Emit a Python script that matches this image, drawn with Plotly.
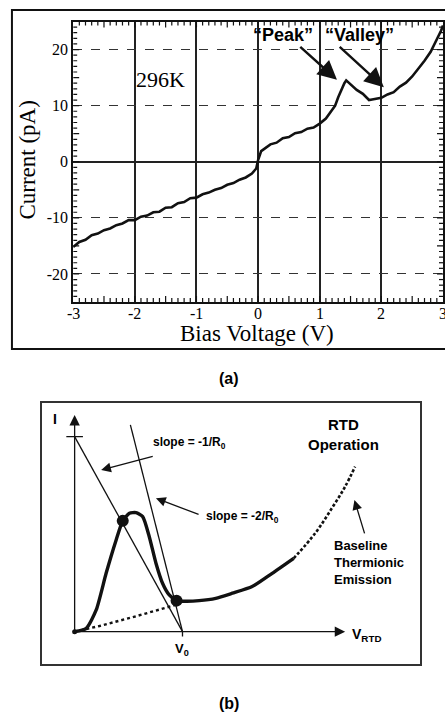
import plotly.graph_objects as go

# ---------------- Panel (a): measured I-V curve at 296K ----------------
bias_v = [-3.0, -2.9, -2.8, -2.7, -2.6, -2.5, -2.4, -2.3, -2.2, -2.1, -2.0, -1.9, -1.8, -1.7,
          -1.6, -1.5, -1.4, -1.3, -1.2, -1.1, -1.0, -0.9, -0.8, -0.7, -0.6, -0.5, -0.4, -0.3,
          -0.2, -0.1, -0.03, 0.0, 0.05, 0.1, 0.2, 0.3, 0.4, 0.5, 0.6, 0.7, 0.8, 0.9, 1.0, 1.1,
          1.2, 1.25, 1.3, 1.35, 1.4, 1.43, 1.5, 1.55, 1.6, 1.7, 1.8, 1.85, 1.9, 2.0, 2.1, 2.2,
          2.3, 2.4, 2.5, 2.6, 2.7, 2.8, 2.9, 2.97, 3.0]
current_pa = [-15.2, -14.3, -13.9, -13.1, -12.8, -12.2, -11.9, -11.3, -11.0, -10.4, -10.4, -9.8,
              -9.6, -9.0, -8.9, -8.2, -8.1, -7.4, -7.2, -6.5, -6.4, -5.8, -5.5, -5.0, -4.7, -4.1,
              -3.8, -3.2, -2.8, -2.1, -1.2, 0.3, 1.9, 2.3, 3.1, 3.4, 4.2, 4.4, 5.1, 5.3, 5.9, 6.1,
              6.8, 7.7, 9.2, 10.0, 11.5, 12.8, 14.0, 14.5, 13.8, 13.4, 12.8, 12.1, 11.0, 11.1,
              11.2, 11.4, 12.0, 12.4, 13.4, 14.1, 15.2, 16.5, 18.0, 19.6, 21.8, 23.4, 24.3]
x_ticks_a = [-3, -2, -1, 0, 1, 2, 3]
y_ticks_a = [-20, -10, 0, 10, 20]
x_minor_step = 0.1   # V
y_minor_step = 1     # pA

# ---------------- Panel (b): RTD operation schematic ----------------
rtd_v = [0.0, 0.108, 0.2, 0.292, 0.385, 0.446, 0.508, 0.569, 0.631, 0.692, 0.754, 0.815,
         0.877, 0.945, 1.031, 1.154, 1.308, 1.462, 1.646, 1.831, 2.031]
rtd_i = [0.0, 0.017, 0.111, 0.299, 0.470, 0.568, 0.607, 0.610, 0.590, 0.487, 0.351, 0.248,
         0.188, 0.159, 0.156, 0.159, 0.171, 0.197, 0.231, 0.299, 0.376]
thermionic_v = [2.031, 2.231, 2.385, 2.508, 2.6]
thermionic_i = [0.376, 0.505, 0.633, 0.744, 0.846]
baseline_v = [0.0, 0.231, 0.538, 0.785, 0.969]
baseline_i = [0.0, 0.029, 0.074, 0.111, 0.142]
load1_v = [0.0, 1.0]
load1_i = [1.0, 0.0]
load2_v = [0.517, 1.0]
load2_i = [1.06, 0.0]
op_v = [0.446, 0.945]
op_i = [0.568, 0.159]

W, H = 445, 713
INK = "#111111"
SERIF = "Liberation Serif, Times New Roman, serif"
SANS = "Liberation Sans, Arial, sans-serif"

fig = go.Figure()

fig.add_trace(go.Scatter(x=bias_v, y=current_pa, mode="lines", xaxis="x", yaxis="y",
                         line=dict(color=INK, width=2.6), showlegend=False, hoverinfo="skip"))

# panel (b) traces
fig.add_trace(go.Scatter(x=baseline_v, y=baseline_i, mode="lines", xaxis="x2", yaxis="y2",
                         line=dict(color=INK, width=2.4, dash="dot"), showlegend=False))
fig.add_trace(go.Scatter(x=load1_v, y=load1_i, mode="lines", xaxis="x2", yaxis="y2",
                         line=dict(color=INK, width=1.3), showlegend=False))
fig.add_trace(go.Scatter(x=load2_v, y=load2_i, mode="lines", xaxis="x2", yaxis="y2",
                         line=dict(color=INK, width=1.3), showlegend=False))
fig.add_trace(go.Scatter(x=rtd_v, y=rtd_i, mode="lines", xaxis="x2", yaxis="y2",
                         line=dict(color=INK, width=3.4, shape="spline", smoothing=0.6),
                         showlegend=False))
fig.add_trace(go.Scatter(x=thermionic_v, y=thermionic_i, mode="lines", xaxis="x2", yaxis="y2",
                         line=dict(color=INK, width=2.6, dash="3px,2px", shape="spline"),
                         showlegend=False))
fig.add_trace(go.Scatter(x=op_v, y=op_i, mode="markers", xaxis="x2", yaxis="y2",
                         marker=dict(color=INK, size=12), showlegend=False))
fig.add_trace(go.Scatter(x=[0], y=[0], mode="markers", xaxis="x2", yaxis="y2",
                         marker=dict(color=INK, size=5), showlegend=False))

# ---------- layout ----------
ax_left, ax_right = 73.5 / W, 1.0
ay_bot, ay_top = 1 - 302 / H, 1 - 21.5 / H
XR = [x_ticks_a[0], x_ticks_a[-1]]
YR = [-25, 25]

tickfont = dict(family=SERIF, size=16, color="#000")
fig.update_layout(
    width=W, height=H, margin=dict(l=0, r=0, t=0, b=0),
    paper_bgcolor="white", plot_bgcolor="white",
    xaxis=dict(domain=[ax_left, ax_right], range=XR, tickvals=x_ticks_a,
               showticklabels=False,
               showline=True, linecolor=INK, linewidth=2, mirror=True, ticks="",
               showgrid=True, gridcolor="#222", gridwidth=1.6, zeroline=False,
               fixedrange=True),
    yaxis=dict(domain=[ay_bot, ay_top], range=YR, tickvals=y_ticks_a,
               ticktext=[str(v) for v in y_ticks_a], tickfont=tickfont,
               showline=True, linecolor=INK, linewidth=2, mirror=True, ticks="",
               showgrid=True, gridcolor="#333", gridwidth=1.3, griddash="dash",
               zeroline=True, zerolinecolor="#222", zerolinewidth=1.8,
               fixedrange=True),
    xaxis2=dict(domain=[41.7 / W, 421.7 / W], range=[-0.307, 3.2], anchor="y2",
                showline=True, linecolor="#333", linewidth=1.5, mirror=True,
                showgrid=False, zeroline=False, showticklabels=False, ticks=""),
    yaxis2=dict(domain=[1 - 664 / H, 1 - 402.7 / H], range=[-0.166, 1.174], anchor="x2",
                showline=True, linecolor="#333", linewidth=1.5, mirror=True,
                showgrid=False, zeroline=False, showticklabels=False, ticks=""),
)

shapes = []
# fine inward tick marks on all four sides of panel (a), placed through the axes' scales
n_x = int(round((XR[1] - XR[0]) / x_minor_step))
for k in range(1, n_x):
    xv = round(XR[0] + k * x_minor_step, 3)
    ln = 6 if abs(xv * 2 - round(xv * 2)) < 1e-6 else 4
    for anchor, sgn in ((YR[0], 1), (YR[1], -1)):
        shapes.append(dict(type="line", xref="x", yref="y", ysizemode="pixel", yanchor=anchor,
                           x0=xv, x1=xv, y0=0, y1=sgn * ln,
                           line=dict(color=INK, width=1.2)))
n_y = int(round((YR[1] - YR[0]) / y_minor_step))
for k in range(1, n_y):
    yv = YR[0] + k * y_minor_step
    ln = 6 if yv % 5 == 0 else 4
    for anchor, sgn in ((XR[0], 1), (XR[1], -1)):
        shapes.append(dict(type="line", xref="x", yref="y", xsizemode="pixel", xanchor=anchor,
                           y0=yv, y1=yv, x0=0, x1=sgn * ln,
                           line=dict(color=INK, width=1.2)))

# frame of panel (a)
shapes.append(dict(type="rect", xref="paper", yref="paper", x0=12 / W, x1=1.05,
                   y0=1 - 349 / H, y1=1 - 10 / H, line=dict(color=INK, width=2)))
# panel (b): tick at I-axis intercept and at V0
shapes.append(dict(type="line", xref="x2", yref="y2", x0=-0.077, x1=0.077, y0=1.0, y1=1.0,
                   line=dict(color=INK, width=1.3)))
shapes.append(dict(type="line", xref="x2", yref="y2", x0=1.0, x1=1.0, y0=0.0, y1=-0.025,
                   line=dict(color=INK, width=1.3)))

ann = []
# x tick labels of panel (a)
for v in x_ticks_a:
    ann.append(dict(xref="x", yref="paper", x=v, y=1 - 313 / H, text=str(v), showarrow=False,
                    xanchor="center", yanchor="middle", font=tickfont))
# panel (a) texts
ann.append(dict(xref="paper", yref="paper", x=26.7 / W, y=1 - 160 / H, text="Current (pA)",
                xanchor="center", yanchor="middle",
                textangle=-90, showarrow=False, font=dict(family=SERIF, size=23, color="#000")))
ann.append(dict(xref="paper", yref="paper", x=258 / W, y=1 - 333 / H, text="Bias Voltage (V)",
                xanchor="center", yanchor="middle",
                showarrow=False, font=dict(family=SERIF, size=23, color="#000")))
ann.append(dict(xref="x", yref="y", x=-1.58, y=14.6, text="296K", showarrow=False,
                font=dict(family=SERIF, size=22, color="#000")))
ann.append(dict(xref="x", yref="y", x=0.40, y=22.6, text="\u201cPeak\u201d", showarrow=False,
                font=dict(family=SANS, size=18, color="#000", weight="bold")))
ann.append(dict(xref="x", yref="y", x=1.65, y=22.6, text="\u201cValley\u201d", showarrow=False,
                font=dict(family=SANS, size=18, color="#000", weight="bold")))
ann.append(dict(xref="x", yref="y", axref="x", ayref="y", x=1.28, y=14.6, ax=0.66, ay=20.7,
                text="", showarrow=True, arrowhead=2, arrowsize=1.6, arrowwidth=2.4,
                arrowcolor=INK))
ann.append(dict(xref="x", yref="y", axref="x", ayref="y", x=2.04, y=13.3, ax=1.3, ay=20.7,
                text="", showarrow=True, arrowhead=2, arrowsize=1.6, arrowwidth=2.4,
                arrowcolor=INK))
ann.append(dict(xref="paper", yref="paper", x=230 / W, y=1 - 378 / H, text="(a)",
                xanchor="center", yanchor="middle",
                showarrow=False, font=dict(family=SANS, size=16, color="#000", weight="bold")))
ann.append(dict(xref="paper", yref="paper", x=230 / W, y=1 - 703 / H, text="(b)",
                xanchor="center", yanchor="middle",
                showarrow=False, font=dict(family=SANS, size=16, color="#000", weight="bold")))

# panel (b) axes arrows
ann.append(dict(xref="x2", yref="y2", axref="x2", ayref="y2", x=0, y=1.111, ax=0, ay=0,
                text="", showarrow=True, arrowhead=2, arrowsize=1.6, arrowwidth=1.3,
                arrowcolor=INK))
ann.append(dict(xref="x2", yref="y2", axref="x2", ayref="y2", x=2.508, y=0, ax=0, ay=0,
                text="", showarrow=True, arrowhead=2, arrowsize=1.6, arrowwidth=1.3,
                arrowcolor=INK))
bfont = dict(family=SANS, size=12, color="#000", weight="bold")
ann.append(dict(xref="x2", yref="y2", x=-0.185, y=1.089, text="I", showarrow=False,
                font=dict(family=SANS, size=14, color="#000", weight="bold")))
ann.append(dict(xref="x2", yref="y2", x=2.55, y=-0.017, text="V<sub>RTD</sub>", showarrow=False,
                xanchor="left", font=dict(family=SANS, size=14, color="#000", weight="bold")))
ann.append(dict(xref="x2", yref="y2", x=1.0, y=-0.094, text="V<sub>0</sub>", showarrow=False,
                font=dict(family=SANS, size=13, color="#000", weight="bold")))
ann.append(dict(xref="x2", yref="y2", x=1.062, y=0.969, text="slope = -1/R<sub>0</sub>",
                showarrow=False, font=bfont))
ann.append(dict(xref="x2", yref="y2", x=1.56, y=0.59, text="slope = -2/R<sub>0</sub>",
                showarrow=False, font=bfont))
ann.append(dict(xref="x2", yref="y2", axref="x2", ayref="y2", x=0.246, y=0.829, ax=0.738,
                ay=0.901, text="", showarrow=True, arrowhead=2, arrowsize=1.5, arrowwidth=1.3,
                arrowcolor=INK))
ann.append(dict(xref="x2", yref="y2", axref="x2", ayref="y2", x=0.754, y=0.684, ax=1.163,
                ay=0.598, text="", showarrow=True, arrowhead=2, arrowsize=1.5, arrowwidth=1.3,
                arrowcolor=INK))
ann.append(dict(xref="x2", yref="y2", x=2.492, y=1.012, text="RTD<br>Operation",
                showarrow=False, font=dict(family=SANS, size=15, color="#000", weight="bold")))
ann.append(dict(xref="x2", yref="y2", x=2.385, y=0.357,
                text="Baseline<br>Thermionic<br>Emission", showarrow=False, xanchor="left",
                align="left", font=dict(family=SANS, size=13, color="#000", weight="bold")))
ann.append(dict(xref="x2", yref="y2", axref="x2", ayref="y2", x=2.594, y=0.675, ax=2.692,
                ay=0.496, text="", showarrow=True, arrowhead=2, arrowsize=1.5, arrowwidth=1.3,
                arrowcolor=INK))

fig.update_layout(annotations=ann, shapes=shapes)
fig.write_html("out.html")
